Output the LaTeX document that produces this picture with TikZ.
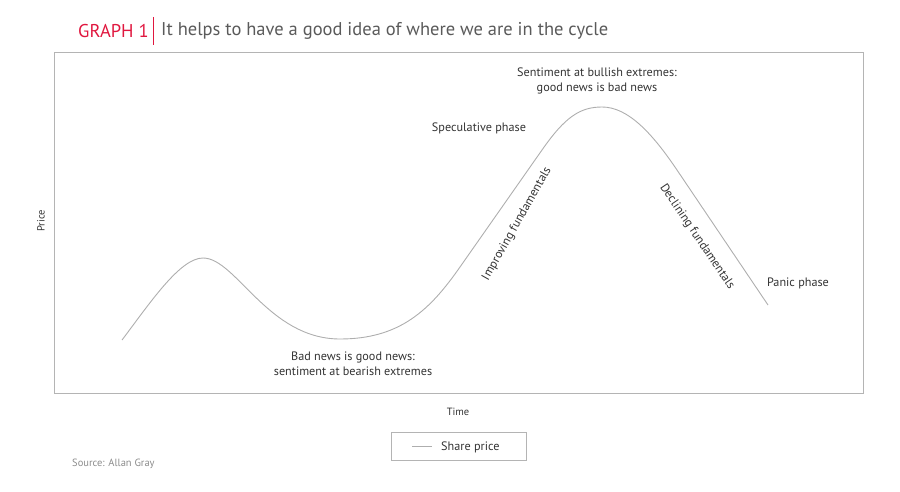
\documentclass[tikz,border=0pt]{standalone}
\usepackage{fontspec}
\setmainfont{PT Sans}
\usepackage{xcolor}
\usepackage{tikz}
\usetikzlibrary{positioning}
\definecolor{graphred}{HTML}{E0173F}
\definecolor{inkgray}{HTML}{333333}
\definecolor{titlegray}{HTML}{5A5A5A}
\definecolor{curvegray}{HTML}{AEAEAE}
\definecolor{framegray}{HTML}{B4B4B4}
\definecolor{notegray}{HTML}{8C8C8C}
\tikzset{
  notelabel/.style={font=\fontsize{12.2}{14.5}\selectfont,text=inkgray,inner sep=1pt,align=center},
  axislabel/.style={font=\fontsize{10.5}{12}\selectfont,text=inkgray,inner sep=1pt},
  pricecurve/.style={draw=curvegray,line width=0.9pt},
  framebox/.style={draw=framegray,line width=0.8pt},
}

\begin{document}
\begin{tikzpicture}[x=1pt,y=-1pt]
        \useasboundingbox (0,0) rectangle (900,492);
        % heading
        \node[anchor=west,inner sep=0pt,font=\fontsize{18.5}{22}\selectfont,text=graphred] (tag) at (78,31) {GRAPH 1};
        \draw[graphred,line width=0.8pt] (153,17) -- (153,45);
        \node[anchor=west,inner sep=0pt,font=\fontsize{18.5}{22}\selectfont,text=titlegray] (title) at (161,31) {It helps to have a good idea of where we are in the cycle};
        % plot area
        \draw[framebox] (54,52) rectangle (863,393);
        \node[axislabel,rotate=90] (ylab) at (41,221) {Price};
        \node[axislabel] (xlab) at (458,412) {Time};
        % share price
        \draw[pricecurve] (122,340) .. controls (150,303) and (180,258) .. (203,258)
          .. controls (236,258) and (268,339) .. (340,339)
          .. controls (400,339) and (430,310) .. (460,267) -- (542,150)
          .. controls (565,117) and (580,107) .. (602,107)
          .. controls (628,107) and (652,133) .. (677,170) -- (768,305);
        % labels
        \node[notelabel] (bull) at (597,81) {Sentiment at bullish extremes:\\good news is bad news};
        \node[notelabel] (spec) at (479,128) {Speculative phase};
        \node[notelabel,rotate=60.5] (improve) at (517,224) {Improving fundamentals};
        \node[notelabel,rotate=-56] (decline) at (697,237) {Declining fundamentals};
        \node[notelabel] (panic) at (798,283) {Panic phase};
        \node[notelabel] (bear) at (353,364) {Bad news is good news:\\sentiment at bearish extremes};
        % legend
        \draw[framebox] (391,432) rectangle (526,460);
        \draw[pricecurve] (412,446) -- (432,446);
        \node[notelabel,anchor=west] (legend) at (440,447) {Share price};
        % source
        \node[anchor=west,inner sep=0pt,font=\fontsize{10.5}{12}\selectfont,text=notegray] (src) at (72,464) {Source: Allan Gray};
\end{tikzpicture}
\end{document}
